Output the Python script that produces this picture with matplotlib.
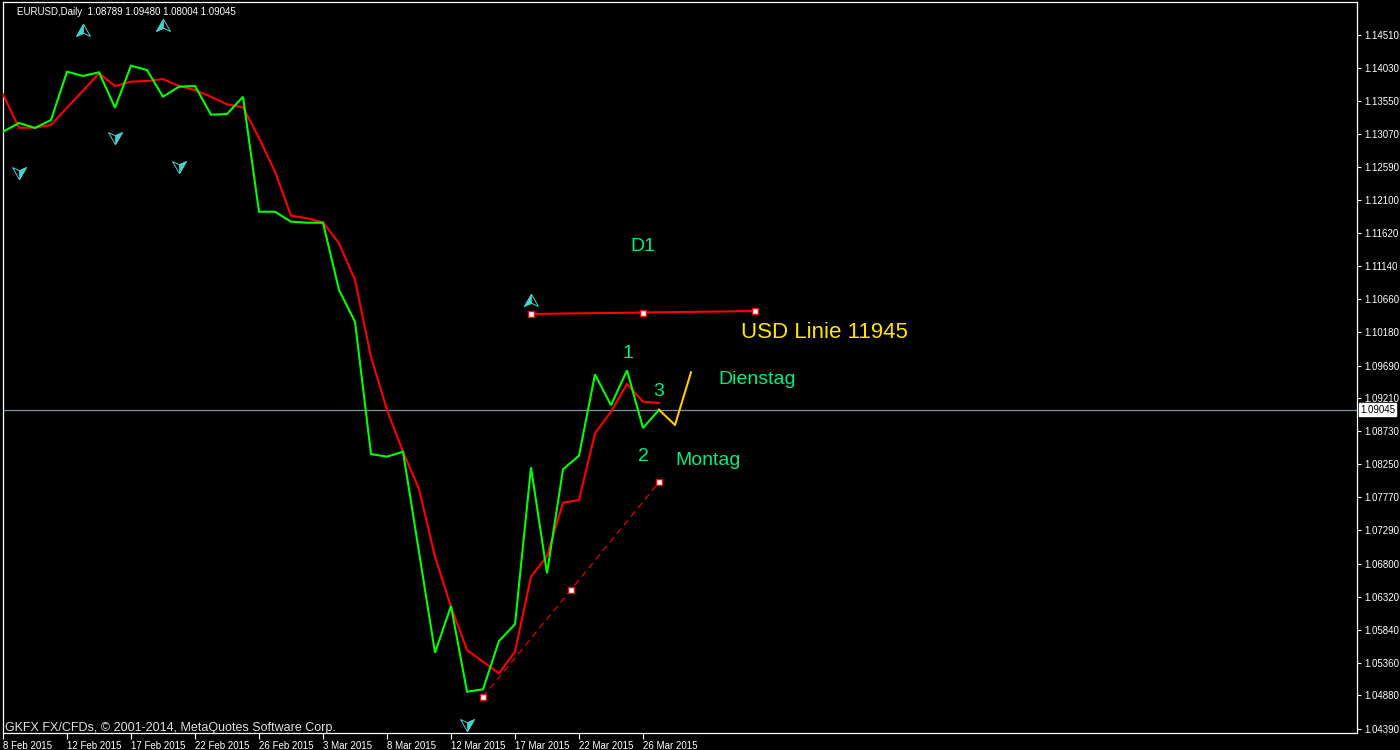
import numpy as np
import matplotlib
matplotlib.use("Agg")
import matplotlib.pyplot as plt
import matplotlib.transforms as mtransforms

# ---------------- data ----------------
title_text = "EURUSD,Daily  1.08789 1.09480 1.08004 1.09045"
copyright_text = "GKFX FX/CFDs, \u00a9 2001-2014, MetaQuotes Software Corp."

# daily closes (green line), bar 0 = 8 Feb 2015
close = [1.13100, 1.13227, 1.13154, 1.13271, 1.13975, 1.13912, 1.13966, 1.13450,
         1.14062, 1.14000, 1.13610, 1.13756, 1.13766, 1.13348, 1.13358, 1.13610,
         1.11933, 1.11933, 1.11788, 1.11773, 1.11773, 1.10792, 1.10329, 1.08400,
         1.08361, 1.08434, 1.06971, 1.05503, 1.06184, 1.04934, 1.04969, 1.05674,
         1.05917, 1.08206, 1.06661, 1.08177, 1.08376, 1.09562, 1.09110, 1.09621,
         1.08779, 1.09045]
# moving average (red line)
ma = [1.13645, 1.13158, 1.13158, 1.13198, 1.13450, 1.13698, 1.13952, 1.13766,
      1.13829, 1.13839, 1.13868, 1.13766, 1.13708, 1.13610, 1.13499, 1.13456,
      1.13008, 1.12517, 1.11875, 1.11837, 1.11779, 1.11473, 1.10938, 1.09819,
      1.09042, 1.08434, 1.07890, 1.06903, 1.06174, 1.05542, 1.05372, 1.05202,
      1.05518, 1.06611, 1.06913, 1.07690, 1.07730, 1.08702, 1.09017, 1.09421,
      1.09163, 1.09144]
# projected path (yellow), bars 41..43
forecast_x = [41, 42, 43]
forecast_y = [1.09045, 1.08823, 1.09592]
# red horizontal trendline
hline_x = [33, 40, 47]
hline_y = [1.10442, 1.10461, 1.10485]
# red dashed trendline
dline_x = [30, 35.5, 41]
dline_y = [1.04857, 1.06420, 1.07988]
# fractal arrows
up_x = [5, 10, 33]
up_y = [1.14583, 1.14656, 1.10646]
down_x = [1, 7, 11, 29]
down_y = [1.12498, 1.13008, 1.12585, 1.04449]

price_ticks = [1.14510, 1.14030, 1.13550, 1.13070, 1.12590, 1.12100, 1.11620,
               1.11140, 1.10660, 1.10180, 1.09690, 1.09210, 1.08730, 1.08250,
               1.07770, 1.07290, 1.06800, 1.06320, 1.05840, 1.05360, 1.04880,
               1.04390]
date_ticks = [0, 4, 8, 12, 16, 20, 24, 28, 32, 36, 40]
date_labels = ["8 Feb 2015", "12 Feb 2015", "17 Feb 2015", "22 Feb 2015",
               "26 Feb 2015", "3 Mar 2015", "8 Mar 2015", "12 Mar 2015",
               "17 Mar 2015", "22 Mar 2015", "26 Mar 2015"]
last_price = 1.09045

# annotations: (text, bar x, price baseline, ha, color, size)
notes = [("D1", 40.0, 1.11360, "center", "#00EE80", 14),
         ("1", 39.04, 1.09800, "center", "#00EE80", 14),
         ("3", 41.0, 1.09246, "center", "#00EE80", 14),
         ("2", 40.0, 1.08298, "center", "#00EE80", 14),
         ("Montag", 42.0, 1.08240, "left", "#00EE80", 14),
         ("Dienstag", 44.7, 1.09421, "left", "#00EE80", 14),
         ("USD Linie 11945", 46.15, 1.10088, "left", "#FFE600", 16)]

# ---------------- drawing ----------------
FONT = ["Liberation Sans", "DejaVu Sans"]
plt.rcParams["font.family"] = FONT

W, H = 1400, 750
fig = plt.figure(figsize=(W / 100, H / 100), dpi=100, facecolor="black")
left_px, right_px, top_px, bot_px = 3, 1357, 2, 733
ax = fig.add_axes([left_px / W, 1 - bot_px / H, (right_px - left_px) / W,
                   (bot_px - top_px) / H])
ax.set_facecolor("black")

px_per_price = 6858.0
ax.set_xlim(0, (right_px - left_px) / 16.0)
ax.set_ylim(1.14510 - (bot_px - 35) / px_per_price,
            1.14510 + (35 - top_px) / px_per_price)

xs = np.arange(len(close))
ax.plot(xs, ma, color="#FF0000", lw=1.5, zorder=3, solid_joinstyle="miter")
ax.plot(xs, close, color="#00FF00", lw=1.5, zorder=3, solid_joinstyle="miter")
ax.plot(forecast_x, forecast_y, color="#FFC800", lw=1.5, zorder=3)

ax.axhline(last_price, color="#8090A0", lw=0.9, zorder=2)

# trendlines
ax.plot([hline_x[0], hline_x[-1]], [hline_y[0], hline_y[-1]], color="#FF0000",
        lw=1.5, zorder=4)
ax.plot(hline_x, hline_y, ls="none", marker="s", ms=4, mfc="white",
        mec="#FF0000", mew=1.0, zorder=5)
ax.plot([dline_x[0], dline_x[-1]], [dline_y[0], dline_y[-1]], color="#FF0000",
        lw=0.8, ls=(0, (6, 4)), zorder=4)
ax.plot(dline_x, dline_y, ls="none", marker="s", ms=4, mfc="white",
        mec="#FF0000", mew=1.0, zorder=5)

# arrows
turq = "#48D1CC"
up_full = [(0, 0.9), (1, -0.85), (0, -0.4), (-1, -0.85), (0, 0.9)]
up_half = [(0, 0.9), (0, -0.4), (-1, -0.85), (0, 0.9)]
dn_full = [(-a, -b) for a, b in up_full]
dn_half = [(-a, -b) for a, b in up_half]
ax.plot(up_x, up_y, ls="none", marker=up_full, ms=10, mfc="none", mec=turq,
        mew=0.7, zorder=6)
ax.plot(up_x, up_y, ls="none", marker=up_half, ms=10, mfc=turq, mec=turq,
        mew=0.5, zorder=6)
ax.plot(down_x, down_y, ls="none", marker=dn_full, ms=10, mfc="none", mec=turq,
        mew=0.7, zorder=6)
ax.plot(down_x, down_y, ls="none", marker=dn_half, ms=10, mfc=turq, mec=turq,
        mew=0.5, zorder=6)

# text annotations
for txt, x, y, ha, col, sz in notes:
    ax.text(x, y, txt, ha=ha, va="baseline", color=col, fontsize=sz, zorder=7)

# axes styling
for sp in ax.spines.values():
    sp.set_color("white")
    sp.set_linewidth(0.9)

ax.yaxis.tick_right()
ax.set_yticks(price_ticks, [f"{v:.5f}" for v in price_ticks])
ax.tick_params(axis="y", colors="white", direction="out", length=3, width=0.8,
               pad=2, labelsize=7)
ax.set_xticks(date_ticks, date_labels)
ax.tick_params(axis="x", colors="white", direction="out", length=4, width=0.8,
               pad=1.5, labelsize=7)
for lab in ax.get_xticklabels():
    lab.set_horizontalalignment("left")

# current price box
trans = mtransforms.blended_transform_factory(ax.transAxes, ax.transData)
ax.text(1.0 + 3 / (right_px - left_px), last_price, f"{last_price:.5f}",
        transform=trans, ha="left", va="center", color="black", fontsize=7,
        bbox=dict(boxstyle="square,pad=0.15", fc="white", ec="white"),
        clip_on=False, zorder=10)

# header and footer
fig.text(17 / W, 1 - 15 / H, title_text, color="white", fontsize=7,
         ha="left", va="baseline")
fig.text(5 / W, 1 - 731 / H, copyright_text, color="#E0E0E0", fontsize=9,
         ha="left", va="baseline")

fig.savefig("out.png", dpi=100, facecolor="black")
